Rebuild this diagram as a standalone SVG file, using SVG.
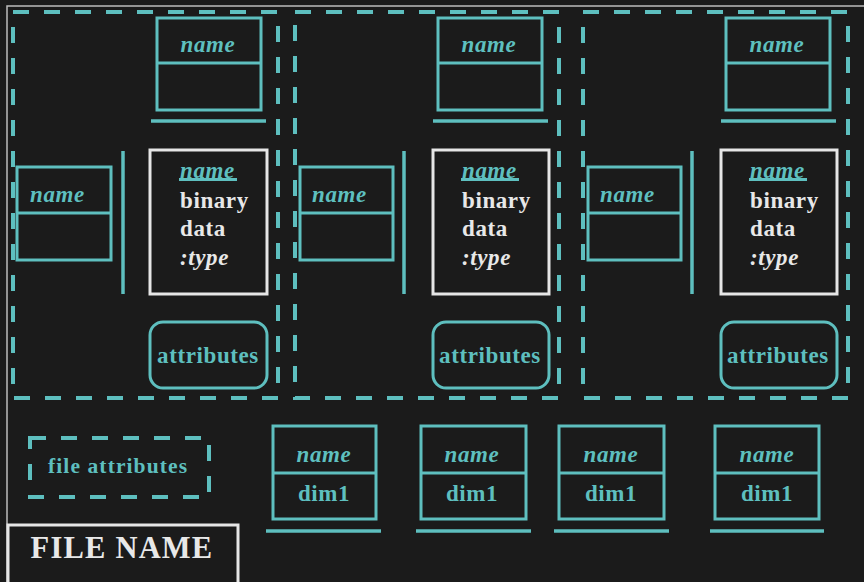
<svg xmlns="http://www.w3.org/2000/svg" width="864" height="582" viewBox="0 0 864 582">
  <style>
    .bg { fill: #1b1b1b; }
    .frame { stroke: #bdbdbd; stroke-width: 1.5; fill: none; }
    .panel { fill: none; stroke: #5ebfbf; stroke-width: 4; stroke-dasharray: 16 15; }
    .box { fill: none; stroke: #5ebfbf; stroke-width: 3; }
    .bar { stroke: #5ebfbf; stroke-width: 3.5; fill: none; }
    .data { fill: none; stroke: #e6e6e6; stroke-width: 3; }
    .t { font-family: "Liberation Serif", "Times New Roman", serif; font-weight: bold; font-size: 23px; letter-spacing: 0.6px; }
    .teal { fill: #5ebfbf; }
    .white { fill: #e8e8e8; }
    .it { font-style: italic; }
    .mid { text-anchor: middle; }
  </style>

  <rect class="bg" x="0" y="0" width="864" height="582"/>
  <!-- page frame -->
  <path class="frame" d="M7,582 V6 H864"/>

  <!-- dataset panel 1 -->
  <g id="dataset1">
    <rect class="panel" x="13" y="12" width="265" height="386"/>
    <g id="ds1-dataspace">
      <rect class="box" x="157" y="18" width="104" height="92"/>
      <line class="box" x1="157" y1="63" x2="261" y2="63"/>
      <line class="bar" x1="151" y1="121" x2="266" y2="121"/>
      <text class="t teal it mid" x="208" y="52">name</text>
    </g>
    <g id="ds1-datatype">
      <rect class="box" x="17" y="167" width="94" height="93"/>
      <line class="box" x1="17" y1="213" x2="111" y2="213"/>
      <line class="bar" x1="123" y1="151" x2="123" y2="294"/>
      <text class="t teal it" x="30" y="202">name</text>
    </g>
    <g id="ds1-data">
      <rect class="data" x="150" y="150" width="117" height="144"/>
      <text class="t teal it" x="180" y="178">name</text>
      <rect class="teal" x="179" y="178" width="58" height="3"/>
      <text class="t white" x="180" y="208">binary</text>
      <text class="t white" x="180" y="236">data</text>
      <text class="t white it" x="180" y="265">:type</text>
    </g>
    <g id="ds1-attributes">
      <rect class="box" x="150" y="322" width="117" height="66" rx="13"/>
      <text class="t teal mid" x="208" y="363">attributes</text>
    </g>
  </g>

  <!-- dataset panel 2 -->
  <g id="dataset2">
    <rect class="panel" x="295" y="12" width="264" height="386"/>
    <g id="ds2-dataspace">
      <rect class="box" x="438" y="18" width="104" height="92"/>
      <line class="box" x1="438" y1="63" x2="542" y2="63"/>
      <line class="bar" x1="433" y1="121" x2="548" y2="121"/>
      <text class="t teal it mid" x="489" y="52">name</text>
    </g>
    <g id="ds2-datatype">
      <rect class="box" x="300" y="167" width="93" height="93"/>
      <line class="box" x1="300" y1="213" x2="393" y2="213"/>
      <line class="bar" x1="404" y1="151" x2="404" y2="294"/>
      <text class="t teal it" x="312" y="202">name</text>
    </g>
    <g id="ds2-data">
      <rect class="data" x="433" y="150" width="116" height="144"/>
      <text class="t teal it" x="462" y="178">name</text>
      <rect class="teal" x="461" y="178" width="58" height="3"/>
      <text class="t white" x="462" y="208">binary</text>
      <text class="t white" x="462" y="236">data</text>
      <text class="t white it" x="462" y="265">:type</text>
    </g>
    <g id="ds2-attributes">
      <rect class="box" x="433" y="322" width="116" height="66" rx="13"/>
      <text class="t teal mid" x="490" y="363">attributes</text>
    </g>
  </g>

  <!-- dataset panel 3 -->
  <g id="dataset3">
    <rect class="panel" x="583" y="12" width="265" height="386"/>
    <g id="ds3-dataspace">
      <rect class="box" x="726" y="18" width="104" height="92"/>
      <line class="box" x1="726" y1="63" x2="830" y2="63"/>
      <line class="bar" x1="721" y1="121" x2="836" y2="121"/>
      <text class="t teal it mid" x="777" y="52">name</text>
    </g>
    <g id="ds3-datatype">
      <rect class="box" x="588" y="167" width="93" height="93"/>
      <line class="box" x1="588" y1="213" x2="681" y2="213"/>
      <line class="bar" x1="692" y1="151" x2="692" y2="294"/>
      <text class="t teal it" x="600" y="202">name</text>
    </g>
    <g id="ds3-data">
      <rect class="data" x="721" y="150" width="116" height="144"/>
      <text class="t teal it" x="750" y="178">name</text>
      <rect class="teal" x="749" y="178" width="58" height="3"/>
      <text class="t white" x="750" y="208">binary</text>
      <text class="t white" x="750" y="236">data</text>
      <text class="t white it" x="750" y="265">:type</text>
    </g>
    <g id="ds3-attributes">
      <rect class="box" x="721" y="322" width="116" height="66" rx="13"/>
      <text class="t teal mid" x="778" y="363">attributes</text>
    </g>
  </g>

  <!-- file attributes -->
  <g id="file-attributes">
    <rect class="panel" x="30" y="438" width="179" height="59"/>
    <text class="t teal" x="48" y="473" style="font-size:21.5px;letter-spacing:1.1px">file attributes</text>
  </g>

  <!-- dimensions -->
  <g id="dim-a">
    <rect class="box" x="273" y="426" width="103" height="93"/>
    <line class="box" x1="273" y1="473" x2="376" y2="473"/>
    <line class="bar" x1="266" y1="531" x2="381" y2="531"/>
    <text class="t teal it mid" x="324" y="462">name</text>
    <text class="t teal mid" x="324" y="501">dim1</text>
  </g>
  <g id="dim-b">
    <rect class="box" x="421" y="426" width="105" height="93"/>
    <line class="box" x1="421" y1="473" x2="526" y2="473"/>
    <line class="bar" x1="416" y1="531" x2="531" y2="531"/>
    <text class="t teal it mid" x="472" y="462">name</text>
    <text class="t teal mid" x="472" y="501">dim1</text>
  </g>
  <g id="dim-c">
    <rect class="box" x="559" y="426" width="105" height="93"/>
    <line class="box" x1="559" y1="473" x2="664" y2="473"/>
    <line class="bar" x1="554" y1="531" x2="669" y2="531"/>
    <text class="t teal it mid" x="611" y="462">name</text>
    <text class="t teal mid" x="611" y="501">dim1</text>
  </g>
  <g id="dim-d">
    <rect class="box" x="715" y="426" width="104" height="93"/>
    <line class="box" x1="715" y1="473" x2="819" y2="473"/>
    <line class="bar" x1="710" y1="531" x2="824" y2="531"/>
    <text class="t teal it mid" x="767" y="462">name</text>
    <text class="t teal mid" x="767" y="501">dim1</text>
  </g>

  <!-- file name -->
  <g id="file-name">
    <rect class="data" x="8" y="525" width="230" height="62"/>
    <text class="t white mid" x="122" y="558" style="font-size:30.5px;letter-spacing:1.2px">FILE NAME</text>
  </g>
</svg>
